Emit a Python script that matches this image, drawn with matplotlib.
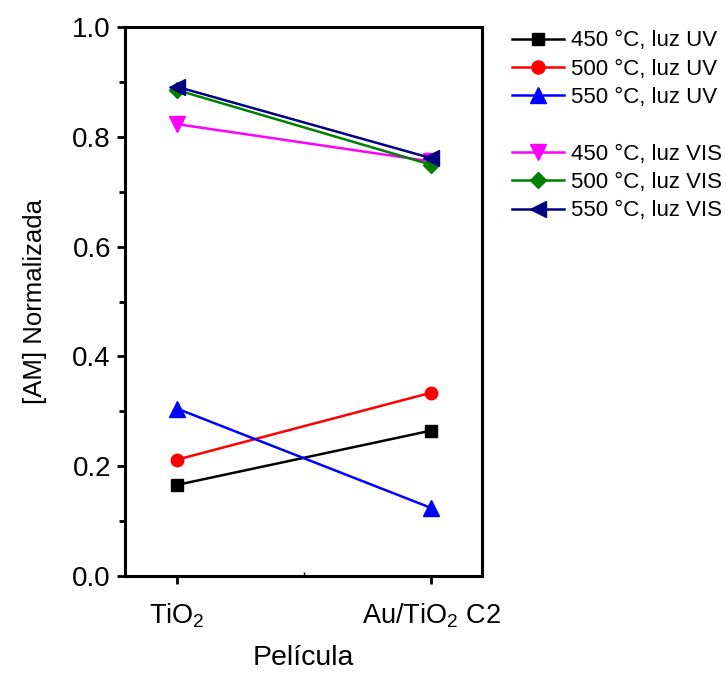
import matplotlib
matplotlib.use("Agg")
import matplotlib.pyplot as plt
from matplotlib.lines import Line2D
from matplotlib.ticker import MultipleLocator, FixedLocator, FormatStrFormatter

plt.rcParams['font.family'] = ['Liberation Sans', 'DejaVu Sans']
plt.rcParams['mathtext.fontset'] = 'custom'
plt.rcParams['mathtext.rm'] = 'Liberation Sans'
plt.rcParams['mathtext.it'] = 'Liberation Sans:italic'

# Films and normalized methylene-blue concentration
films = ["TiO$_2$", "Au/TiO$_2$ C2"]
uv_450 = [0.166, 0.265]
uv_500 = [0.212, 0.334]
uv_550 = [0.305, 0.124]
vis_450 = [0.823, 0.755]
vis_500 = [0.885, 0.749]
vis_550 = [0.891, 0.761]

labels = ["450 °C, luz UV", "500 °C, luz UV", "550 °C, luz UV",
          "450 °C, luz VIS", "500 °C, luz VIS", "550 °C, luz VIS"]

series = [
    (uv_450, "black", "s", 8.5),
    (uv_500, "red", "o", 9),
    (uv_550, "blue", "^", 11),
    (vis_450, "magenta", "v", 11),
    (vis_500, "green", "D", 8),
    (vis_550, "navy", "<", 11),
]

fig = plt.figure(figsize=(7.26, 6.73), dpi=100)
ax = fig.add_axes([0.172, 0.144, 0.492, 0.816])

x = list(range(len(films)))
handles = []
for (vals, color, marker, ms), lab in zip(series, labels):
    h, = ax.plot(x, vals, color=color, marker=marker, markersize=ms,
                 linewidth=1.8, label=lab)
    handles.append(h)

ax.set_xlim(-0.205, 1.2)
ax.set_ylim(0.0, 1.0)
ax.set_xticks(x)
ax.set_xticklabels(films)
ax.xaxis.set_minor_locator(FixedLocator([0.5]))
ax.yaxis.set_major_locator(MultipleLocator(0.2))
ax.yaxis.set_minor_locator(MultipleLocator(0.1))
ax.yaxis.set_major_formatter(FormatStrFormatter('%.1f'))

for s in ax.spines.values():
    s.set_linewidth(2.2)
ax.tick_params(axis='both', which='major', direction='out', length=6,
               width=2.0, labelsize=20, pad=4)
ax.tick_params(axis='y', which='minor', direction='out', length=4, width=2.0)
ax.tick_params(axis='x', which='minor', direction='in', length=3, width=1.0)
ax.tick_params(axis='x', which='major', pad=12, labelsize=19.5)

ax.set_xlabel("Película", fontsize=20.5, labelpad=11)
ax.set_ylabel("[AM] Normalizada", fontsize=18.5, labelpad=18)

blank = Line2D([], [], color='none')
leg_handles = handles[:3] + [blank] + handles[3:]
leg_labels = labels[:3] + [""] + labels[3:]
leg = fig.legend(leg_handles, leg_labels, loc='upper left',
                 bbox_to_anchor=(0.693, 0.968), frameon=False, fontsize=16,
                 handlelength=2.35, handletextpad=0.3, labelspacing=0.33,
                 borderaxespad=0, markerscale=1.05)

fig.savefig("out.png", dpi=100)
